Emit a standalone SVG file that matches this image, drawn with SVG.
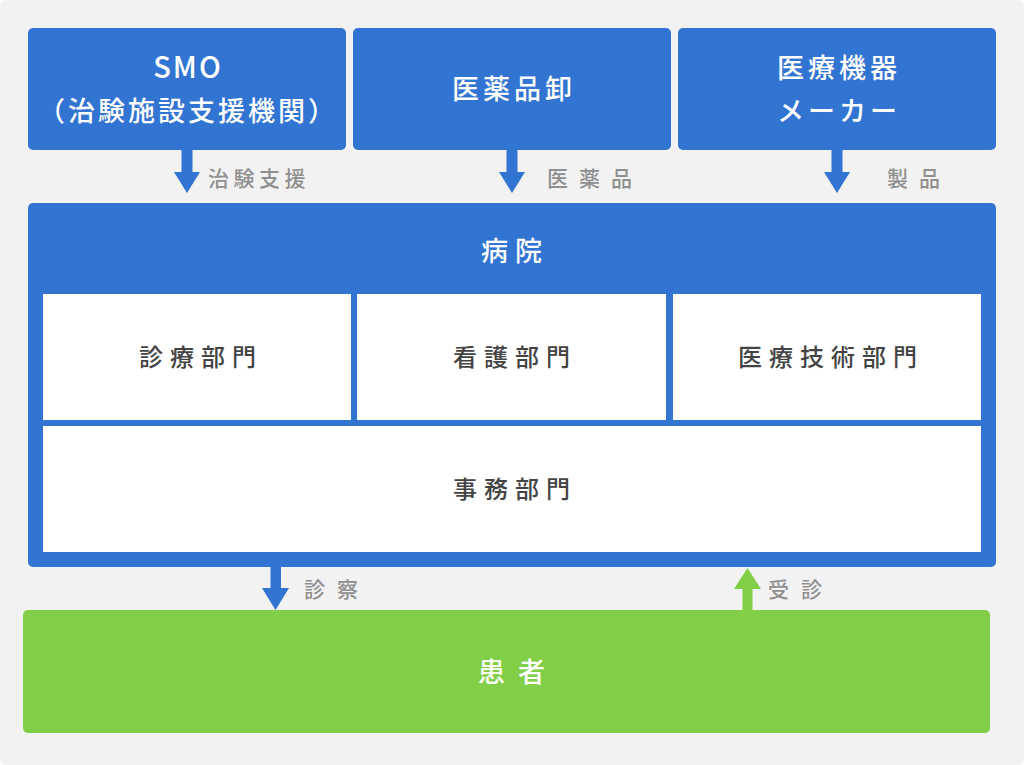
<svg xmlns="http://www.w3.org/2000/svg" width="1024" height="765" viewBox="0 0 1024 765">
<style>
.t{font-family:"Noto Sans CJK JP","Noto Sans",sans-serif;}
.w{fill:#ffffff;font-weight:500;font-size:27px;}
.d{fill:#444444;font-weight:500;font-size:24px;letter-spacing:7px;}
.l{fill:#8f8f8f;font-weight:500;font-size:21px;}
.blue{fill:#3274d1;}
.green{fill:#81ce47;}
</style>
<rect x="0" y="0" width="1024" height="765" rx="6" fill="#f2f2f2"/>
<g id="smo">
<rect class="blue" x="28" y="28" width="318" height="122" rx="5"/>
<text class="t w" x="188" y="78" text-anchor="middle" style="font-size:29px;letter-spacing:2px">SMO</text>
<text class="t w" x="188" y="121" text-anchor="middle" style="letter-spacing:3px">（治験施設支援機関）</text>
</g>
<g id="wholesale">
<rect class="blue" x="353" y="28" width="318" height="122" rx="5"/>
<text class="t w" x="514" y="99" text-anchor="middle" style="letter-spacing:4px">医薬品卸</text>
</g>
<g id="maker">
<rect class="blue" x="678" y="28" width="318" height="122" rx="5"/>
<text class="t w" x="839" y="78" text-anchor="middle" style="letter-spacing:4px">医療機器</text>
<text class="t w" x="839" y="121" text-anchor="middle" style="letter-spacing:4px">メーカー</text>
</g>
<g id="hospital">
<rect class="blue" x="28" y="203" width="968" height="364" rx="5"/>
<text class="t w" x="515" y="261" text-anchor="middle" style="letter-spacing:7px">病院</text>
<g id="dept-medical">
<rect x="43" y="294" width="308" height="126" fill="#ffffff"/>
<text class="t d" x="201" y="366" text-anchor="middle">診療部門</text>
</g>
<g id="dept-nursing">
<rect x="357" y="294" width="309" height="126" fill="#ffffff"/>
<text class="t d" x="515" y="366" text-anchor="middle">看護部門</text>
</g>
<g id="dept-tech">
<rect x="673" y="294" width="308" height="126" fill="#ffffff"/>
<text class="t d" x="831" y="366" text-anchor="middle">医療技術部門</text>
</g>
<g id="dept-office">
<rect x="43" y="426" width="938" height="126" fill="#ffffff"/>
<text class="t d" x="515" y="498" text-anchor="middle">事務部門</text>
</g>
</g>
<g id="patient">
<rect class="green" x="23" y="610" width="967" height="123" rx="5"/>
<text class="t w" x="518" y="682" text-anchor="middle" style="letter-spacing:13px">患者</text>
</g>
<g id="connectors">
<g class="blue">
<path d="M181.5 150 H192.5 V172 H200 L187 193 L174 172 H181.5 Z"/>
<path d="M506.5 150 H517.5 V172 H525 L512 193 L499 172 H506.5 Z"/>
<path d="M831.5 150 H842.5 V172 H850 L837 193 L824 172 H831.5 Z"/>
<path d="M270.5 567 H281 V588 H289 L275.5 610 L262 588 H270.5 Z"/>
</g>
<path class="green" d="M742.5 610 H752.5 V589 H761 L747.5 568 L734 589 H742.5 Z"/>
<text class="t l" x="208" y="186" style="letter-spacing:4.5px">治験支援</text>
<text class="t l" x="547" y="186" style="letter-spacing:11px">医薬品</text>
<text class="t l" x="887" y="186" style="letter-spacing:11px">製品</text>
<text class="t l" x="304" y="597" style="letter-spacing:12px">診察</text>
<text class="t l" x="768" y="597" style="letter-spacing:12px">受診</text>
</g>
</svg>
